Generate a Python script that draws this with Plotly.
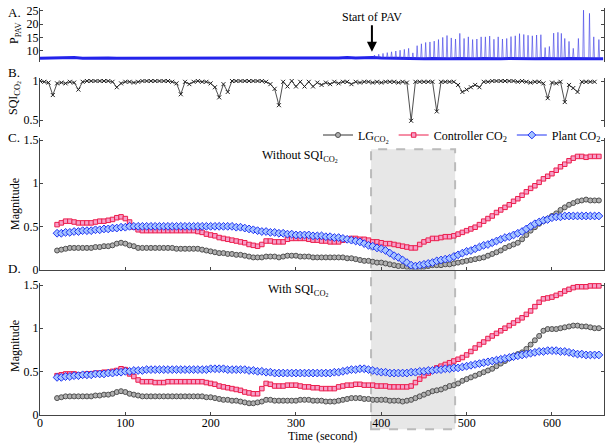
import plotly.graph_objects as go

W, H = 612, 448
FONT = "Liberation Serif"


def px(p):
    return p / W


def py(p):
    return 1 - p / H


# ---------------- data ----------------
mag_t0, mag_step = 20, 5

lg_c = [0.22, 0.23, 0.24, 0.25, 0.25, 0.25, 0.25, 0.25, 0.25, 0.26,
        0.26, 0.27, 0.27, 0.28, 0.30, 0.31, 0.30, 0.28, 0.27, 0.25,
        0.25, 0.25, 0.25, 0.25, 0.25, 0.25, 0.25, 0.25, 0.24, 0.24,
        0.24, 0.24, 0.24, 0.24, 0.23, 0.22, 0.21, 0.20, 0.19, 0.19,
        0.18, 0.18, 0.17, 0.17, 0.16, 0.15, 0.14, 0.14, 0.14, 0.15,
        0.15, 0.15, 0.14, 0.15, 0.16, 0.16, 0.16, 0.15, 0.15, 0.15,
        0.14, 0.14, 0.14, 0.14, 0.14, 0.14, 0.14, 0.14, 0.13, 0.13,
        0.12, 0.11, 0.10, 0.10, 0.09, 0.08, 0.08, 0.07, 0.06, 0.05,
        0.04, 0.04, 0.03, 0.02, 0.02, 0.02, 0.03, 0.04, 0.05, 0.05,
        0.05, 0.06, 0.06, 0.07, 0.08, 0.09, 0.10, 0.11, 0.12, 0.13,
        0.14, 0.16, 0.18, 0.20, 0.22, 0.25, 0.27, 0.29, 0.31, 0.35,
        0.40, 0.45, 0.49, 0.53, 0.56, 0.59, 0.62, 0.65, 0.69, 0.72,
        0.75, 0.77, 0.79, 0.80, 0.81, 0.80, 0.80, 0.80]

ctrl_c = [0.52, 0.54, 0.56, 0.56, 0.55, 0.54, 0.54, 0.54, 0.54, 0.55,
          0.56, 0.56, 0.57, 0.58, 0.60, 0.61, 0.59, 0.55, 0.49, 0.46,
          0.45, 0.45, 0.45, 0.45, 0.45, 0.45, 0.45, 0.45, 0.45, 0.45,
          0.45, 0.45, 0.45, 0.44, 0.43, 0.41, 0.40, 0.39, 0.37, 0.36,
          0.35, 0.34, 0.33, 0.32, 0.31, 0.29, 0.28, 0.27, 0.29, 0.33,
          0.33, 0.32, 0.32, 0.32, 0.35, 0.36, 0.36, 0.36, 0.36, 0.35,
          0.34, 0.34, 0.33, 0.33, 0.32, 0.32, 0.32, 0.34, 0.35, 0.36,
          0.36, 0.35, 0.35, 0.34, 0.32, 0.32, 0.31, 0.30, 0.30, 0.29,
          0.28, 0.27, 0.26, 0.25, 0.25, 0.29, 0.32, 0.34, 0.36, 0.36,
          0.37, 0.38, 0.38, 0.39, 0.41, 0.43, 0.45, 0.47, 0.49, 0.52,
          0.56, 0.59, 0.62, 0.66, 0.69, 0.72, 0.75, 0.79, 0.82, 0.86,
          0.90, 0.94, 0.97, 1.01, 1.05, 1.08, 1.11, 1.15, 1.19, 1.22,
          1.26, 1.29, 1.31, 1.31, 1.30, 1.31, 1.31, 1.31]

plant_c = [0.42, 0.42, 0.43, 0.43, 0.44, 0.44, 0.45, 0.45, 0.45, 0.46,
           0.46, 0.47, 0.47, 0.48, 0.48, 0.49, 0.49, 0.50, 0.50, 0.50,
           0.50, 0.50, 0.50, 0.50, 0.50, 0.50, 0.50, 0.50, 0.50, 0.50,
           0.50, 0.50, 0.50, 0.50, 0.50, 0.50, 0.50, 0.50, 0.50, 0.50,
           0.50, 0.50, 0.49, 0.49, 0.48, 0.47, 0.46, 0.45, 0.44, 0.44,
           0.43, 0.43, 0.42, 0.42, 0.41, 0.41, 0.40, 0.40, 0.40, 0.40,
           0.39, 0.39, 0.39, 0.38, 0.38, 0.37, 0.37, 0.36, 0.35, 0.34,
           0.33, 0.32, 0.30, 0.28, 0.27, 0.25, 0.24, 0.22, 0.19, 0.16,
           0.14, 0.11, 0.08, 0.05, 0.04, 0.05, 0.06, 0.07, 0.08, 0.10,
           0.11, 0.12, 0.13, 0.15, 0.17, 0.19, 0.21, 0.22, 0.24, 0.26,
           0.28, 0.29, 0.31, 0.33, 0.35, 0.37, 0.38, 0.40, 0.42, 0.44,
           0.47, 0.50, 0.53, 0.55, 0.57, 0.58, 0.60, 0.61, 0.61, 0.62,
           0.62, 0.62, 0.62, 0.62, 0.62, 0.62, 0.62, 0.62]

lg_d = [0.19, 0.20, 0.21, 0.21, 0.21, 0.21, 0.21, 0.21, 0.21, 0.22,
        0.22, 0.23, 0.23, 0.24, 0.26, 0.27, 0.26, 0.24, 0.23, 0.22,
        0.21, 0.21, 0.21, 0.21, 0.21, 0.21, 0.21, 0.21, 0.21, 0.21,
        0.21, 0.21, 0.21, 0.21, 0.21, 0.20, 0.20, 0.19, 0.18, 0.17,
        0.17, 0.16, 0.16, 0.15, 0.14, 0.13, 0.13, 0.14, 0.15, 0.17,
        0.17, 0.16, 0.16, 0.16, 0.16, 0.16, 0.16, 0.17, 0.17, 0.17,
        0.16, 0.16, 0.16, 0.15, 0.15, 0.15, 0.16, 0.17, 0.18, 0.19,
        0.19, 0.19, 0.18, 0.18, 0.17, 0.17, 0.17, 0.17, 0.16, 0.16,
        0.16, 0.15, 0.16, 0.17, 0.19, 0.21, 0.23, 0.25, 0.27, 0.28,
        0.29, 0.31, 0.33, 0.34, 0.36, 0.39, 0.41, 0.43, 0.45, 0.47,
        0.49, 0.51, 0.53, 0.56, 0.59, 0.62, 0.65, 0.68, 0.70, 0.72,
        0.76, 0.81, 0.86, 0.91, 0.97, 0.99, 0.99, 0.99, 1.00, 1.01,
        1.02, 1.03, 1.03, 1.02, 1.02, 1.01, 1.00, 1.00]

ctrl_d = [0.45, 0.46, 0.47, 0.47, 0.47, 0.46, 0.46, 0.47, 0.47, 0.48,
          0.48, 0.49, 0.49, 0.50, 0.51, 0.53, 0.52, 0.47, 0.44, 0.40,
          0.38, 0.38, 0.38, 0.37, 0.37, 0.37, 0.38, 0.38, 0.38, 0.38,
          0.38, 0.38, 0.38, 0.38, 0.38, 0.37, 0.36, 0.35, 0.33, 0.32,
          0.31, 0.30, 0.29, 0.28, 0.26, 0.25, 0.24, 0.24, 0.30, 0.36,
          0.35, 0.33, 0.33, 0.33, 0.34, 0.34, 0.34, 0.33, 0.32, 0.32,
          0.31, 0.31, 0.30, 0.30, 0.30, 0.30, 0.32, 0.33, 0.34, 0.34,
          0.35, 0.35, 0.34, 0.34, 0.34, 0.33, 0.33, 0.33, 0.32, 0.32,
          0.32, 0.32, 0.32, 0.33, 0.37, 0.41, 0.45, 0.48, 0.51, 0.54,
          0.56, 0.58, 0.60, 0.62, 0.64, 0.66, 0.69, 0.73, 0.77, 0.81,
          0.84, 0.88, 0.91, 0.94, 0.97, 1.00, 1.03, 1.06, 1.09, 1.12,
          1.16, 1.20, 1.25, 1.30, 1.34, 1.35, 1.36, 1.38, 1.40, 1.43,
          1.45, 1.47, 1.48, 1.48, 1.48, 1.49, 1.49, 1.49]

plant_d = [0.43, 0.43, 0.44, 0.44, 0.45, 0.45, 0.46, 0.46, 0.46, 0.47,
           0.47, 0.47, 0.48, 0.48, 0.49, 0.49, 0.50, 0.50, 0.51, 0.51,
           0.51, 0.52, 0.52, 0.52, 0.52, 0.52, 0.52, 0.52, 0.52, 0.52,
           0.52, 0.52, 0.52, 0.52, 0.52, 0.52, 0.53, 0.53, 0.53, 0.53,
           0.52, 0.52, 0.52, 0.52, 0.52, 0.51, 0.51, 0.50, 0.50, 0.49,
           0.49, 0.48, 0.48, 0.48, 0.48, 0.48, 0.48, 0.48, 0.48, 0.48,
           0.48, 0.48, 0.48, 0.48, 0.48, 0.49, 0.49, 0.50, 0.51, 0.52,
           0.52, 0.53, 0.53, 0.52, 0.51, 0.50, 0.49, 0.49, 0.48, 0.48,
           0.48, 0.48, 0.48, 0.49, 0.49, 0.50, 0.50, 0.51, 0.51, 0.52,
           0.52, 0.53, 0.53, 0.54, 0.54, 0.55, 0.56, 0.57, 0.58, 0.59,
           0.60, 0.61, 0.62, 0.63, 0.64, 0.65, 0.66, 0.67, 0.68, 0.69,
           0.70, 0.71, 0.72, 0.73, 0.73, 0.74, 0.74, 0.74, 0.73, 0.73,
           0.72, 0.71, 0.70, 0.70, 0.69, 0.69, 0.69, 0.69]

sqi_step = 5
sqi = [1.00, 0.99, 0.98, 0.82, 0.97, 0.98, 0.97, 0.99, 0.98, 0.89,
       0.99, 1.00, 1.00, 1.00, 1.00, 1.00, 1.00, 0.99, 0.92, 0.97,
       0.99, 0.99, 0.98, 0.99, 1.00, 1.00, 1.00, 1.00, 1.00, 1.00,
       1.00, 0.99, 0.97, 0.83, 0.99, 0.96, 0.99, 1.00, 0.99, 0.99,
       0.97, 0.92, 0.79, 0.96, 0.86, 1.00, 1.00, 1.00, 1.00, 1.00,
       1.00, 1.00, 1.00, 0.99, 0.96, 0.90, 0.69, 0.99, 0.93, 1.00,
       0.93, 0.99, 0.93, 0.99, 0.93, 0.98, 0.95, 0.98, 0.96, 0.99,
       0.97, 0.99, 0.99, 0.96, 0.99, 0.98, 0.99, 0.99, 0.98, 0.99,
       0.98, 0.99, 0.99, 0.99, 0.98, 0.99, 0.98, 0.49, 0.99, 0.99,
       0.99, 0.99, 0.99, 0.61, 0.99, 0.99, 0.99, 0.99, 0.95, 0.86,
       0.89, 0.92, 0.95, 0.92, 0.99, 0.99, 1.00, 1.00, 1.00, 1.00,
       1.00, 1.00, 0.99, 1.00, 0.99, 0.98, 0.99, 0.99, 0.97, 0.78,
       0.98, 0.97, 0.99, 0.73, 0.95, 0.91, 0.86, 0.99, 0.99, 0.99,
       0.99]

pav_step = 10
pav_baseline = [7.2, 7.3, 7.2, 7.4, 7.5, 7.2, 7.3, 7.2, 7.3, 7.2,
                7.2, 7.3, 7.2, 7.2, 7.3, 7.2, 7.3, 7.2, 7.2, 7.3,
                7.2, 7.2, 7.3, 7.2, 7.2, 7.3, 7.2, 7.2, 7.3, 7.2,
                7.2, 7.3, 7.2, 7.2, 7.2, 7.3, 7.5, 7.3, 7.4, 7.5,
                7.3, 7.2, 7.1, 7.0, 7.1, 7.0, 7.1, 7.0, 7.0, 7.1,
                7.0, 7.0, 7.1, 7.0, 7.0, 7.1, 7.0, 7.0, 7.0, 7.1,
                7.0, 7.0, 7.1, 7.0, 7.0, 7.0, 7.0]

spike_times = [392, 397, 402, 407, 412, 417, 422, 427, 432, 437,
               442, 447, 452, 457, 462, 467, 472, 477, 482, 487,
               492, 497, 502, 507, 512, 517, 522, 527, 532, 537,
               542, 547, 552, 557, 562, 567, 572, 577, 582, 587,
               592, 597, 602, 607, 611, 615, 620, 625, 631, 637,
               644, 649, 655]
spike_peaks = [8.4, 8.7, 9.0, 9.3, 9.6, 9.9, 10.2, 10.5, 10.9, 9.2,
               11.9, 12.6, 13.1, 13.3, 13.6, 14.2, 15.0, 15.7, 14.8, 14.4,
               16.5, 14.6, 15.2, 14.2, 14.4, 15.2, 15.2, 15.5, 14.3, 15.2,
               14.4, 14.6, 15.3, 15.6, 16.4, 16.1, 15.8, 15.6, 15.9, 16.0,
               11.2, 11.6, 16.6, 16.9, 16.5, 14.6, 13.5, 10.9, 14.6, 25.2,
               24.0, 15.2, 14.2]

x_ticks = [0, 100, 200, 300, 400, 500, 600]
pav_ticks = [10, 15, 20, 25]
sqi_ticks = [0.5, 1]
mag_ticks = [0, 0.5, 1, 1.5]
pav_start = 389
shade_span = [388, 486.5]

# ---------------- derived x values ----------------
t_mag = [mag_t0 + mag_step * i for i in range(len(lg_c))]
t_sqi = [sqi_step * i for i in range(len(sqi))]
t_pav = [pav_step * i for i in range(len(pav_baseline))]

sp_x, sp_y = [], []
for ts, pk in zip(spike_times, spike_peaks):
    b = pav_baseline[min(round(ts / pav_step), len(pav_baseline) - 1)]
    sp_x += [ts - 0.9, ts, ts + 0.9, None]
    sp_y += [b, pk, b, None]

# ---------------- figure ----------------
fig = go.Figure()

fig.add_trace(go.Scatter(x=t_pav, y=pav_baseline, mode="lines",
                         line=dict(color="rgb(35,35,235)", width=3),
                         xaxis="x", yaxis="y", showlegend=False))
fig.add_trace(go.Scatter(x=sp_x, y=sp_y, mode="lines",
                         line=dict(color="rgba(60,60,230,0.6)", width=1),
                         xaxis="x", yaxis="y", showlegend=False))

fig.add_trace(go.Scatter(x=t_sqi, y=sqi, mode="lines+markers",
                         line=dict(color="#222", width=0.8),
                         marker=dict(symbol="x-thin", size=4,
                                     line=dict(color="#222", width=1)),
                         xaxis="x2", yaxis="y2", showlegend=False))

styles = [
    dict(name="LG<sub>CO<sub>2</sub></sub>", line=dict(color="#333", width=1),
         marker=dict(symbol="circle", size=5, color="rgb(175,175,175)",
                     line=dict(color="rgb(80,80,80)", width=1))),
    dict(name="Controller CO<sub>2</sub>", line=dict(color="rgb(236,28,76)", width=1),
         marker=dict(symbol="square", size=4.5, color="rgb(245,160,200)",
                     line=dict(color="rgb(236,28,76)", width=1))),
    dict(name="Plant CO<sub>2</sub>", line=dict(color="rgb(30,50,245)", width=1),
         marker=dict(symbol="diamond", size=6, color="rgb(165,195,255)",
                     line=dict(color="rgb(30,50,245)", width=1))),
]

for series, st in zip([lg_c, ctrl_c, plant_c], styles):
    fig.add_trace(go.Scatter(x=t_mag, y=series, mode="lines+markers",
                             xaxis="x3", yaxis="y3", showlegend=True, **st))
for series, st in zip([lg_d, ctrl_d, plant_d], styles):
    fig.add_trace(go.Scatter(x=t_mag, y=series, mode="lines+markers",
                             xaxis="x4", yaxis="y4", showlegend=False, **st))

axis_col = "#444"
tickfont = dict(family=FONT, size=12, color="black")
xdom = [px(40), px(604)]
xrng = [0, 661]


def yax(dom, rng, ticks, labels):
    return dict(domain=dom, range=rng, tickvals=ticks, ticktext=labels,
                showline=True, linecolor=axis_col, linewidth=1, mirror="ticks",
                ticks="inside", ticklen=3, tickcolor=axis_col, tickfont=tickfont,
                ticklabelstandoff=-2,
                showgrid=False, zeroline=False, fixedrange=True, automargin=False)


def xax(anchor, show, labels):
    return dict(domain=xdom, range=xrng, anchor=anchor, visible=show,
                showline=True, linecolor=axis_col, linewidth=1,
                ticks="inside", ticklen=3, tickcolor=axis_col,
                tickvals=x_ticks, showticklabels=labels, tickfont=tickfont,
                ticklabelstandoff=-3,
                showgrid=False, zeroline=False, automargin=False)


fig.update_layout(
    width=W, height=H, autosize=False,
    margin=dict(l=0, r=0, t=0, b=0, pad=0),
    paper_bgcolor="white", plot_bgcolor="rgba(0,0,0,0)",
    font=dict(family=FONT, size=12, color="black"),
    xaxis=xax("y", False, False),
    xaxis2=xax("y2", False, False),
    xaxis3=xax("y3", True, False),
    xaxis4=xax("y4", True, True),
    yaxis=yax([py(61.7), py(8.3)], [5.9, 25.9], pav_ticks, [str(v) for v in pav_ticks]),
    yaxis2=yax([py(126.7), py(78.3)], [0.414, 1.035], sqi_ticks, ["0.5", "1"]),
    yaxis3=yax([py(269.5), py(138.3)], [0, 1.52], mag_ticks, ["0", "0.5", "1", "1.5"]),
    yaxis4=yax([py(414.5), py(282.7)], [0, 1.527], mag_ticks, ["0", "0.5", "1", "1.5"]),
    legend=dict(orientation="h", x=px(606), xanchor="right", y=py(135), yanchor="middle",
                bgcolor="rgba(0,0,0,0)", font=dict(family=FONT, size=12),
                itemwidth=30, tracegroupgap=0),
)

fig.add_shape(type="rect", xref="x4", yref="paper",
              x0=shade_span[0], x1=shade_span[1], y0=py(429.3), y1=py(149.3),
              fillcolor="rgba(215,215,215,0.6)",
              line=dict(color="#bbbbbb", width=2, dash="dash"), layer="below")

ann = []
for lab, yy in [("A.", 13), ("B.", 72), ("C.", 137), ("D.", 268)]:
    ann.append(dict(text=lab, x=px(6), y=py(yy), xref="paper", yref="paper",
                    xanchor="left", yanchor="middle", showarrow=False,
                    font=dict(family=FONT, size=13)))
for txt, xx, yy in [("P<sub>PAV</sub>", 15, 33), ("SQI<sub>CO<sub>2</sub></sub>", 14, 98),
                    ("Magnitude", 15, 204), ("Magnitude", 15, 346)]:
    ann.append(dict(text=txt, x=px(xx), y=py(yy), xref="paper", yref="paper",
                    xanchor="center", yanchor="middle", textangle=-90, showarrow=False,
                    font=dict(family=FONT, size=12)))
for txt, xx, yy in [("Without SQI<sub>CO<sub>2</sub></sub>", 300, 156),
                    ("With SQI<sub>CO<sub>2</sub></sub>", 298, 290),
                    ("Time (second)", 322, 436)]:
    ann.append(dict(text=txt, x=px(xx), y=py(yy), xref="paper", yref="paper",
                    xanchor="center", yanchor="middle", showarrow=False,
                    font=dict(family=FONT, size=12)))
ann.append(dict(text="Start of PAV", x=pav_start, y=9.6, xref="x", yref="y",
                showarrow=True, ax=0, ay=-35, arrowhead=2, arrowsize=1,
                arrowwidth=2, arrowcolor="black",
                font=dict(family=FONT, size=12)))
fig.update_layout(annotations=ann)

fig.write_html("out.html",
               config={"displayModeBar": False, "staticPlot": True},
               post_script="document.body.style.margin='0px';"
                           "document.body.style.overflow='hidden';")
